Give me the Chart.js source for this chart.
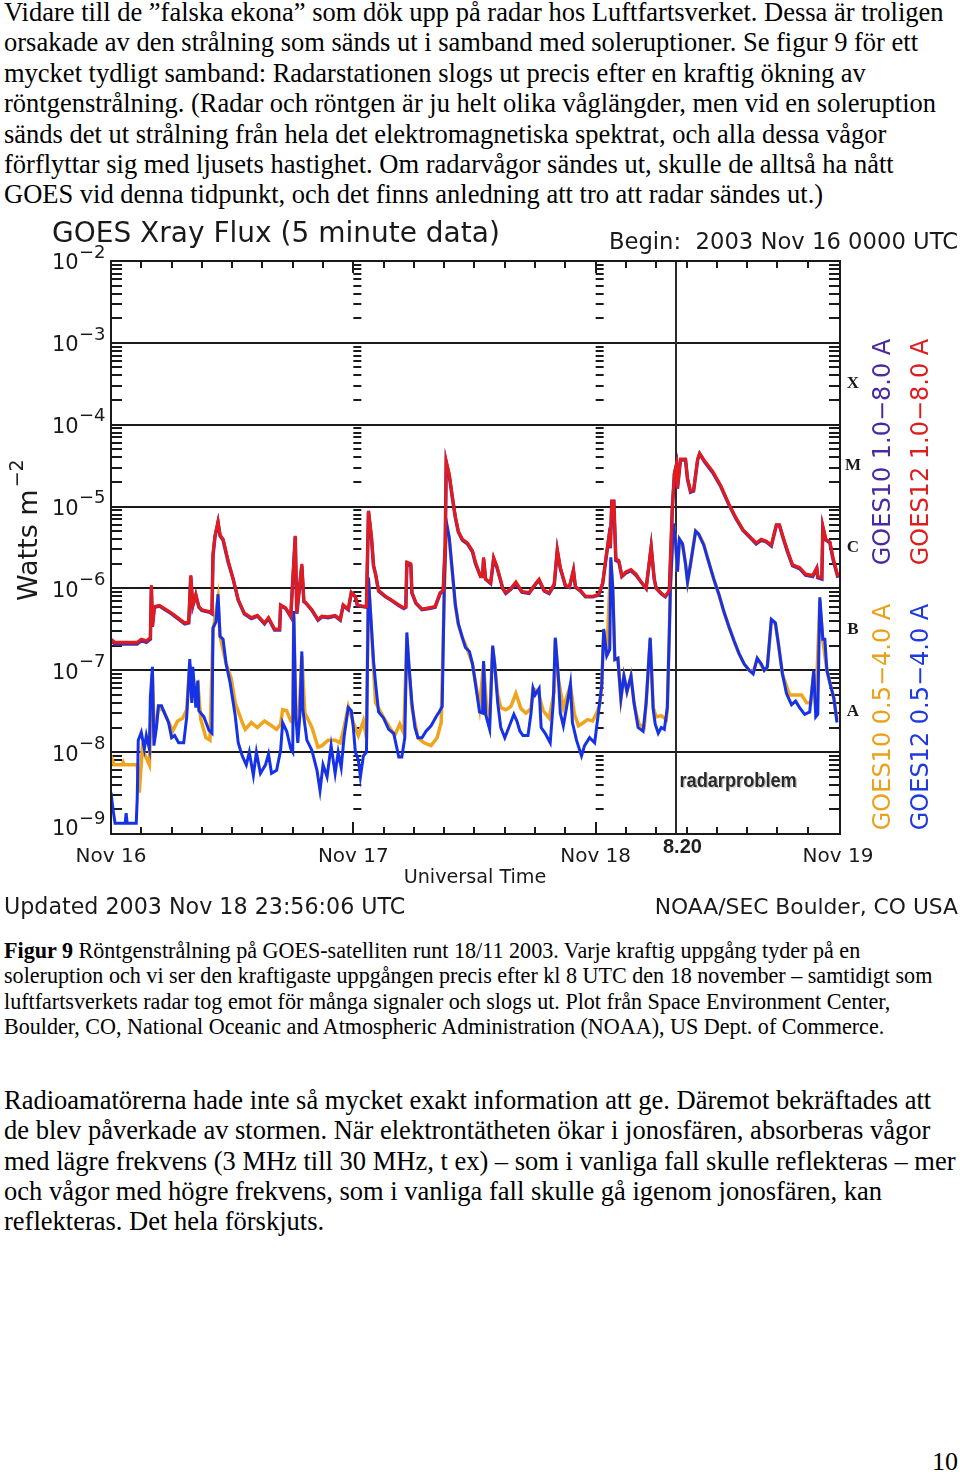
<!DOCTYPE html>
<html>
<head>
<meta charset="utf-8">
<script src="https://cdn.jsdelivr.net/npm/chart.js@4.4.1/dist/chart.umd.min.js"></script>
<style>
  body { margin: 0; background: #fff; }
  #page { position: relative; width: 960px; height: 1474px; overflow: hidden; }
  .txt { position: absolute; left: 4px; font-family: "Liberation Serif", "Times New Roman", serif; color: #000; white-space: nowrap; }
  #para1 { top: -3px; font-size: 26.5px; line-height: 30.4px; }
  #caption { top: 938px; font-size: 22.1px; line-height: 25.3px; }
  #para2 { top: 1085px; font-size: 26.5px; line-height: 30.3px; }
  #pagenum { position: absolute; left: 932px; top: 1447px; font-family: "Liberation Serif", serif; font-size: 26px; }
  #chartBox { position: absolute; left: 0; top: 215px; width: 960px; height: 712px; }
</style>
</head>
<body>
<div id="page">
<div id="para1" class="txt">Vidare till de ”falska ekona” som dök upp på radar hos Luftfartsverket. Dessa är troligen<br>orsakade av den strålning som sänds ut i samband med soleruptioner. Se figur 9 för ett<br>mycket tydligt samband: Radarstationen slogs ut precis efter en kraftig ökning av<br>röntgenstrålning. (Radar och röntgen är ju helt olika våglängder, men vid en soleruption<br>sänds det ut strålning från hela det elektromagnetiska spektrat, och alla dessa vågor<br>förflyttar sig med ljusets hastighet. Om radarvågor sändes ut, skulle de alltså ha nått<br>GOES vid denna tidpunkt, och det finns anledning att tro att radar sändes ut.)</div>

<div id="chartBox"><canvas id="myChart" width="960" height="712"></canvas></div>

<div id="caption" class="txt"><b>Figur 9</b> Röntgenstrålning på GOES-satelliten runt 18/11 2003. Varje kraftig uppgång tyder på en<br>soleruption och vi ser den kraftigaste uppgången precis efter kl 8 UTC den 18 november – samtidigt som<br>luftfartsverkets radar tog emot för många signaler och slogs ut. Plot från Space Environment Center,<br>Boulder, CO, National Oceanic and Atmospheric Administration (NOAA), US Dept. of Commerce.</div>

<div id="para2" class="txt">Radioamatörerna hade inte så mycket exakt information att ge. Däremot bekräftades att<br>de blev påverkade av stormen. När elektrontätheten ökar i jonosfären, absorberas vågor<br>med lägre frekvens (3 MHz till 30 MHz, t ex) – som i vanliga fall skulle reflekteras – mer<br>och vågor med högre frekvens, som i vanliga fall skulle gå igenom jonosfären, kan<br>reflekteras. Det hela förskjuts.</div>

<div id="pagenum">10</div>
</div>

<script>
// hours since 2003 Nov 16 00:00 UTC
const dayLabels  = ['Nov 16', 'Nov 17', 'Nov 18', 'Nov 19'];
const dayHours   = [0, 24, 48, 72];
const decadeExps = [-2, -3, -4, -5, -6, -7, -8, -9];
const flareClasses = [['X', 1e-4], ['M', 1e-5], ['C', 1e-6], ['B', 1e-7], ['A', 1e-8]]; // letter sits in decade above value
const radarHour  = 56.0;

// 1.0-8.0 A channels (GOES12 red on top, GOES10 purple below it)
const longHours = [0, 0.4, 1.5, 2.6, 3.0, 3.5, 3.9, 4.0, 4.1, 4.3, 4.8, 6.0, 7.3, 7.7, 7.9, 8.1, 8.4, 8.7, 9.0, 9.8,
  10.0, 10.1, 10.3, 10.6, 10.8, 11.1, 11.6, 12.1, 12.6, 13.2, 13.9, 14.5, 15.2, 15.6, 16.2, 16.7, 16.8, 17.3, 17.8, 18.1,
  18.25, 18.4, 18.9, 19.1, 19.3, 19.9, 20.5, 20.9, 21.5, 22.2, 22.7, 23.0, 23.5, 23.8, 24.2, 24.4, 24.9, 25.3, 25.5, 25.8,
  26.0, 26.2, 26.5, 27.2, 27.8, 28.5, 29.0, 29.2, 29.3, 29.7, 29.8, 30.2, 30.8, 31.5, 32.1, 32.6, 32.9, 33.1, 33.2, 33.5,
  33.8, 34.1, 34.4, 34.8, 35.3, 35.8, 36.1, 36.6, 36.8, 36.9, 37.1, 37.6, 37.9, 38.2, 38.8, 39.1, 39.6, 40.1, 40.7, 41.4,
  42.1, 42.4, 42.9, 43.4, 43.9, 44.2, 44.5, 45.0, 45.4, 45.8, 46.0, 46.5, 47.0, 47.7, 48.3, 48.7, 49.0, 49.3, 49.45, 49.6,
  49.8, 50.0, 50.3, 50.6, 51.0, 51.5, 52.0, 52.5, 53.0, 53.5, 53.8, 54.0, 54.5, 54.9, 55.3, 55.6, 55.8, 56.0, 56.1, 56.4,
  56.9, 57.1, 57.4, 57.7, 58.1, 58.3, 58.8, 59.6, 60.4, 61.2, 61.9, 62.6, 63.2, 63.9, 64.4, 64.9, 65.4, 65.9, 66.2, 66.5,
  67.0, 67.5, 68.2, 68.8, 69.5, 69.9, 70.0, 70.4, 70.5, 70.8, 71.2, 71.5, 72.0];
const goes12Long = [2.4e-7, 2.2e-7, 2.2e-7, 2.2e-7, 2.4e-7, 2.3e-7, 2.5e-7, 1.1e-6, 3.5e-7, 6e-7, 6.2e-7, 5e-7, 3.8e-7, 3.9e-7, 1.45e-6, 6.2e-7, 8.5e-7, 6e-7, 5.5e-7, 5.2e-7,
  5e-7, 2.6e-6, 4.4e-6, 6.6e-6, 4.5e-6, 4e-6, 2.2e-6, 1.3e-6, 7.3e-7, 5e-7, 4.4e-7, 4.7e-7, 3.8e-7, 4.4e-7, 3.2e-7, 3.2e-7, 6.3e-7, 5.8e-7, 4.6e-7, 2.1e-6,
  4.4e-6, 5e-7, 2e-6, 7e-7, 6.7e-7, 5.5e-7, 4.2e-7, 4.6e-7, 4.5e-7, 4.7e-7, 4.2e-7, 6.3e-7, 5.6e-7, 9e-7, 8e-7, 6.3e-7, 6.1e-7, 6e-7, 8.9e-6, 4.2e-6,
  1.9e-6, 1.5e-6, 9.5e-7, 8e-7, 7.2e-7, 6.3e-7, 5.8e-7, 6e-7, 2.1e-6, 2e-6, 9e-7, 6.7e-7, 5.6e-7, 5.8e-7, 6e-7, 8.9e-7, 9.5e-7, 3.4e-6, 3.6e-5, 2.5e-5,
  1.35e-5, 7.6e-6, 5e-6, 4e-6, 3.6e-6, 2.9e-6, 2.1e-6, 1.4e-6, 1.4e-6, 2.4e-6, 1.3e-6, 1.17e-6, 2.4e-6, 1.9e-6, 1e-6, 8.9e-7, 1e-6, 1.2e-6, 9.2e-7, 8.9e-7,
  1.17e-6, 1.3e-6, 9.5e-7, 8.9e-7, 1.15e-6, 3e-6, 1.8e-6, 1.1e-6, 1.05e-6, 1.7e-6, 1.05e-6, 9.5e-7, 8e-7, 8e-7, 8.5e-7, 1.17e-6, 2.3e-6, 4.2e-6, 3.2e-6, 1.17e-5,
  1.17e-5, 2.3e-6, 2.2e-6, 1.4e-6, 1.6e-6, 1.7e-6, 1.5e-6, 1.2e-6, 1e-6, 3.3e-6, 1.3e-6, 1e-6, 8.8e-7, 8e-7, 9.5e-7, 1e-5, 2.6e-5, 3.3e-5, 1.7e-5, 3.8e-5,
  3.8e-5, 2.2e-5, 1.55e-5, 1.6e-5, 3.8e-5, 4.5e-5, 3.6e-5, 2.7e-5, 1.8e-5, 1.07e-5, 7.3e-6, 5.2e-6, 4.4e-6, 3.6e-6, 4e-6, 3.8e-6, 3.4e-6, 6e-6, 6e-6, 4.5e-6,
  2.9e-6, 1.95e-6, 1.8e-6, 1.5e-6, 1.45e-6, 1.8e-6, 1.4e-6, 1.35e-6, 5.8e-6, 4e-6, 3.7e-6, 2.4e-6, 1.4e-6];
const goes10Long = [2.3e-7, 2.1e-7, 2.1e-7, 2.1e-7, 2.3e-7, 2.2e-7, 2.4e-7, 1.05e-6, 3.4e-7, 5.9e-7, 6.1e-7, 4.9e-7, 3.7e-7, 3.8e-7, 1.4e-6, 6.1e-7, 8.3e-7, 5.9e-7, 5.4e-7, 5.1e-7,
  4.9e-7, 2.5e-6, 4.3e-6, 6.4e-6, 4.4e-6, 3.9e-6, 2.1e-6, 1.3e-6, 7.2e-7, 4.9e-7, 4.3e-7, 4.6e-7, 3.7e-7, 4.3e-7, 3.1e-7, 3.1e-7, 6.2e-7, 5.7e-7, 4.5e-7, 2e-6,
  4.3e-6, 4.9e-7, 1.9e-6, 6.9e-7, 6.6e-7, 5.4e-7, 4.1e-7, 4.5e-7, 4.4e-7, 4.6e-7, 4.1e-7, 6.2e-7, 5.5e-7, 8.8e-7, 7.9e-7, 6.2e-7, 6e-7, 5.9e-7, 8.7e-6, 4.1e-6,
  1.9e-6, 1.5e-6, 9.3e-7, 7.9e-7, 7.1e-7, 6.2e-7, 5.7e-7, 5.9e-7, 2e-6, 1.9e-6, 8.8e-7, 6.6e-7, 5.5e-7, 5.7e-7, 5.9e-7, 8.7e-7, 9.3e-7, 3.3e-6, 3.5e-5, 2.4e-5,
  1.3e-5, 7.4e-6, 4.9e-6, 3.9e-6, 3.5e-6, 2.8e-6, 2e-6, 1.4e-6, 1.4e-6, 2.3e-6, 1.3e-6, 1.15e-6, 2.3e-6, 1.85e-6, 1e-6, 8.7e-7, 9.8e-7, 1.15e-6, 9e-7, 8.7e-7,
  1.15e-6, 1.25e-6, 9.3e-7, 8.7e-7, 1.1e-6, 2.9e-6, 1.75e-6, 1.08e-6, 1.03e-6, 1.65e-6, 1.03e-6, 9.3e-7, 7.9e-7, 7.9e-7, 8.3e-7, 1.15e-6, 2.2e-6, 4.1e-6, 3.1e-6, 1.15e-5,
  1.15e-5, 2.2e-6, 2.1e-6, 1.4e-6, 1.55e-6, 1.65e-6, 1.45e-6, 1.2e-6, 1e-6, 3.2e-6, 1.3e-6, 1e-6, 8.6e-7, 7.9e-7, 9.3e-7, 9.8e-6, 2.5e-5, 3.2e-5, 1.65e-5, 3.7e-5,
  3.7e-5, 2.15e-5, 1.5e-5, 1.55e-5, 3.7e-5, 4.4e-5, 3.5e-5, 2.6e-5, 1.75e-5, 1.05e-5, 7.1e-6, 5.1e-6, 4.3e-6, 3.5e-6, 3.9e-6, 3.7e-6, 3.3e-6, 5.9e-6, 5.9e-6, 4.4e-6,
  2.8e-6, 1.9e-6, 1.75e-6, 1.45e-6, 1.4e-6, 1.75e-6, 1.35e-6, 1.3e-6, 5.6e-6, 3.9e-6, 3.6e-6, 2.3e-6, 1.35e-6];

// 0.5-4.0 A, GOES12 (blue)
const shortHours = [0, 0.2, 0.4, 1.4, 1.5, 1.6, 2.5, 2.6, 2.7, 3.0, 3.3, 3.5, 3.8, 3.9, 4.1, 4.25, 4.5, 4.7, 5.0, 5.3,
  5.7, 6.0, 6.3, 6.7, 7.2, 7.5, 7.8, 8.0, 8.1, 8.4, 8.6, 8.7, 9.2, 9.7, 10.0, 10.1, 10.4, 10.6, 10.8, 11.1,
  11.4, 11.8, 12.3, 12.6, 13.0, 13.4, 13.7, 14.1, 14.4, 14.8, 15.3, 15.6, 15.9, 16.4, 16.8, 17.0, 17.4, 17.8, 18.0, 18.1,
  18.3, 18.5, 18.7, 18.9, 19.0, 19.4, 19.9, 20.4, 20.7, 21.0, 21.4, 21.8, 22.2, 22.5, 22.8, 23.1, 23.5, 23.8, 24.0, 24.2,
  24.5, 24.7, 25.0, 25.3, 25.5, 25.8, 26.0, 26.2, 26.5, 27.0, 27.5, 28.0, 28.5, 28.8, 29.1, 29.3, 29.5, 29.8, 30.1, 30.4,
  30.8, 31.2, 31.7, 32.2, 32.5, 32.8, 33.0, 33.2, 33.5, 33.8, 34.1, 34.4, 34.8, 35.1, 35.5, 35.8, 36.2, 36.5, 36.8, 36.9,
  37.1, 37.5, 37.8, 38.0, 38.3, 38.6, 39.0, 39.4, 39.9, 40.2, 40.5, 40.8, 41.3, 41.6, 41.8, 42.0, 42.4, 42.6, 43.0, 43.5,
  43.8, 44.0, 44.3, 44.5, 44.8, 45.2, 45.5, 45.7, 46.1, 46.6, 46.9, 47.4, 47.9, 48.3, 48.6, 48.8, 49.1, 49.4, 49.5, 49.7,
  49.9, 50.2, 50.5, 50.8, 51.1, 51.5, 51.8, 52.2, 52.7, 53.0, 53.4, 53.7, 53.9, 54.2, 54.5, 54.8, 55.1, 55.3, 55.4, 55.7,
  55.9, 56.1, 56.3, 56.6, 56.9, 57.1, 57.4, 57.9, 58.2, 58.7, 59.2, 59.7, 60.2, 60.7, 61.2, 61.7, 62.2, 62.7, 63.2, 63.6,
  64.0, 64.4, 64.7, 65.0, 65.4, 65.8, 66.1, 66.5, 66.9, 67.4, 67.8, 68.2, 68.7, 69.2, 69.6, 69.8, 70.0, 70.2, 70.5, 70.7,
  70.9, 71.2, 71.6, 71.9];
const goes12Short = [3.2e-9, 2e-9, 1.35e-9, 1.35e-9, 1.8e-9, 1.35e-9, 1.35e-9, 2.8e-9, 1.4e-8, 1.75e-8, 1.1e-8, 1.6e-8, 1.1e-8, 4.7e-8, 1.1e-7, 1.2e-8, 2e-8, 3.7e-8, 3.7e-8, 3e-8,
  2.3e-8, 1.5e-8, 1.6e-8, 1.3e-8, 1.3e-8, 2.7e-8, 1.37e-7, 4e-8, 1.1e-7, 3.5e-8, 7.5e-8, 3.2e-8, 2.7e-8, 1.85e-8, 1.7e-8, 3.3e-7, 3.9e-7, 8.5e-7, 2.6e-7, 2.4e-7,
  1.2e-7, 7e-8, 2.8e-8, 1.3e-8, 9e-9, 7e-9, 1e-8, 5.2e-9, 1e-8, 5.5e-9, 7e-9, 9.5e-9, 5.5e-9, 6e-9, 1.05e-8, 2.3e-8, 1.8e-8, 1.1e-8, 1e-8, 5.3e-7,
  2.8e-8, 1.3e-8, 2.8e-8, 1.7e-7, 3.3e-8, 1.4e-8, 1.05e-8, 6e-9, 3.4e-9, 7e-9, 5e-9, 1.2e-8, 5.5e-9, 1e-8, 6.5e-9, 1.6e-8, 3.5e-8, 3.2e-8, 2e-8, 1e-8,
  8e-9, 5e-9, 9e-9, 1e-8, 1.36e-6, 3.3e-7, 1.3e-7, 7e-8, 3.1e-8, 2.6e-8, 1.9e-8, 1.7e-8, 8.7e-9, 8.7e-9, 1.5e-8, 2.9e-7, 1.2e-7, 4e-8, 2e-8, 1.5e-8,
  1.5e-8, 1.8e-8, 2.1e-8, 2.7e-8, 3.1e-8, 3.6e-8, 9.3e-7, 6.7e-6, 4.2e-6, 1.65e-6, 6.4e-7, 3.7e-7, 2.5e-7, 1.9e-7, 1.7e-7, 1.2e-7, 5.6e-8, 3.1e-8, 3e-8, 1.3e-7,
  2.9e-8, 1.9e-8, 2e-7, 1.2e-7, 4e-8, 2e-8, 1.5e-8, 2e-8, 2.9e-8, 2.4e-8, 1.8e-8, 1.6e-8, 1.6e-8, 3e-8, 6e-8, 5e-8, 6e-8, 2e-8, 1.7e-8, 1.3e-8,
  4e-8, 2.5e-7, 8.5e-8, 3e-8, 2.1e-8, 4e-8, 6.8e-8, 2.3e-8, 1.4e-8, 9e-9, 1.2e-8, 1.5e-8, 1.3e-8, 3.2e-8, 6.5e-8, 3.2e-7, 1.5e-7, 1.8e-7, 2.4e-6, 1e-6,
  1.35e-7, 1.4e-7, 4.5e-8, 8.5e-8, 5.5e-8, 8.5e-8, 4e-8, 2e-8, 1.8e-8, 4e-8, 2.5e-7, 3.3e-8, 2.2e-8, 1.7e-8, 2e-8, 1.9e-8, 3.5e-8, 3e-7, 1e-6, 6.2e-6,
  4e-6, 1.6e-6, 4e-6, 3.5e-6, 2e-6, 1.2e-6, 2e-6, 5e-6, 4.6e-6, 3.4e-6, 2.1e-6, 1.3e-6, 8.5e-7, 5.2e-7, 3.4e-7, 2.3e-7, 1.6e-7, 1.2e-7, 1e-7, 9e-8,
  1.4e-7, 1.2e-7, 1e-7, 1.1e-7, 4.2e-7, 3.8e-7, 2.1e-7, 9e-8, 5.2e-8, 3.8e-8, 4.2e-8, 3.5e-8, 2.9e-8, 3.1e-8, 1e-7, 2.7e-8, 2.9e-8, 7.8e-7, 2.4e-7, 2.4e-7,
  1e-7, 7e-8, 4.5e-8, 2.3e-8];

// 0.5-4.0 A, GOES10 (orange, mostly hidden under blue)
const orangeHours = [0, 0.3, 1.1, 1.2, 1.3, 2.6, 2.8, 3.1, 3.4, 3.8, 4.0, 4.1, 4.3, 4.7, 5.2, 5.8, 6.1, 6.6, 7.1, 7.5,
  7.8, 8.1, 8.6, 8.9, 9.4, 9.8, 10.1, 10.6, 10.8, 11.4, 11.9, 12.3, 13.0, 13.3, 13.9, 14.5, 15.2, 15.9, 16.4, 16.8,
  17.0, 17.4, 17.8, 18.0, 18.1, 18.3, 18.6, 18.9, 19.2, 19.9, 20.5, 20.9, 21.5, 22.2, 22.7, 23.0, 23.5, 24.0, 24.5, 25.0,
  25.3, 25.5, 25.8, 26.2, 27.2, 28.1, 28.6, 29.0, 29.3, 29.5, 29.8, 30.4, 31.0, 31.7, 32.3, 32.7, 33.0, 33.2, 33.5, 33.8,
  34.1, 34.4, 34.8, 35.3, 35.8, 36.2, 36.5, 36.9, 37.2, 37.5, 37.8, 38.0, 38.3, 38.6, 39.1, 39.6, 40.1, 40.6, 41.1, 41.6,
  41.8, 42.3, 42.8, 43.4, 43.9, 44.0, 44.3, 44.8, 45.5, 45.9, 46.3, 46.8, 47.2, 47.7, 48.1, 48.4, 48.6, 48.8, 49.1, 49.5,
  49.7, 49.9, 50.2, 50.5, 50.8, 51.1, 51.5, 51.8, 52.0, 52.3, 52.8, 53.0, 53.4, 53.7, 54.0, 54.5, 55.0, 55.1, 55.3, 55.4,
  55.7, 55.9, 56.1, 56.3, 56.6, 56.9, 57.1, 57.4, 57.9, 58.2, 58.7, 59.2, 59.7, 60.2, 60.7, 61.2, 61.7, 62.2, 62.7, 63.2,
  63.6, 64.0, 64.7, 65.0, 65.4, 65.8, 66.1, 66.5, 67.2, 67.9, 68.4, 68.9, 69.3, 69.6, 69.8, 70.2, 70.5, 70.9, 71.2, 71.6,
  71.9];
const goes10Short = [9e-9, 7e-9, 7e-9, 7.5e-9, 7e-9, 7e-9, 3.2e-9, 1.1e-8, 9e-9, 7e-9, 4e-8, 9e-8, 1.5e-8, 3.5e-8, 3.2e-8, 2.2e-8, 1.8e-8, 2.4e-8, 2.6e-8, 3.3e-8,
  1.2e-7, 6e-8, 7e-8, 2.5e-8, 1.5e-8, 1.4e-8, 3e-7, 7.5e-7, 2.6e-7, 1.2e-7, 8e-8, 4e-8, 2.3e-8, 1.9e-8, 2.3e-8, 2e-8, 2.4e-8, 2.1e-8, 1.9e-8, 2.2e-8,
  3.3e-8, 3.2e-8, 2.4e-8, 2.3e-8, 4.5e-7, 3.5e-8, 2.5e-8, 1.5e-7, 3e-8, 2e-8, 1.15e-8, 1.2e-8, 1.4e-8, 1.4e-8, 1.3e-8, 1.8e-8, 3.6e-8, 2.3e-8, 1.6e-8, 2.4e-8,
  1.5e-8, 1.2e-6, 3e-7, 4e-8, 2.4e-8, 1.6e-8, 2.2e-8, 1.7e-8, 2.5e-7, 1.1e-7, 3.5e-8, 1.5e-8, 1.3e-8, 1.2e-8, 1.5e-8, 2.3e-8, 8e-7, 6e-6, 4e-6, 1.6e-6,
  6.2e-7, 3.6e-7, 2.5e-7, 1.8e-7, 1.2e-7, 6e-8, 3.5e-8, 1.2e-7, 3.5e-8, 2.5e-8, 1.9e-7, 1.2e-7, 5e-8, 3.5e-8, 3.3e-8, 3.6e-8, 5.2e-8, 3.4e-8, 3e-8, 3.4e-8,
  6e-8, 5.5e-8, 3.2e-8, 2.6e-8, 5.5e-8, 2.4e-7, 8e-8, 3.5e-8, 6.5e-8, 2.9e-8, 2.1e-8, 2.3e-8, 2.5e-8, 2.4e-8, 3e-8, 3.8e-8, 6.5e-8, 3e-7, 1.5e-7, 2.2e-6,
  9e-7, 1.35e-7, 1.4e-7, 4.5e-8, 8.5e-8, 5.5e-8, 8.5e-8, 4e-8, 3e-8, 2.2e-8, 2e-8, 4e-8, 2.4e-7, 3.5e-8, 2.7e-8, 2.8e-8, 2.5e-8, 3.5e-8, 3e-7, 1e-6,
  6e-6, 4e-6, 1.6e-6, 4e-6, 3.5e-6, 2e-6, 1.2e-6, 2e-6, 5e-6, 4.6e-6, 3.5e-6, 2.1e-6, 1.3e-6, 8.5e-7, 5.2e-7, 3.4e-7, 2.3e-7, 1.6e-7, 1.2e-7, 1e-7,
  9.5e-8, 1.4e-7, 1e-7, 1.1e-7, 4e-7, 3.7e-7, 2.1e-7, 9e-8, 5e-8, 5e-8, 5e-8, 4e-8, 4e-8, 9e-8, 3.5e-8, 7e-7, 2.3e-7, 1e-7, 7e-8, 4.5e-8,
  2.5e-8];

function toPoints(hours, values) {
  return hours.map(function (h, i) { return { x: h, y: values[i] }; });
}

const ink = '#1a1a1a';
const idlFont = '"DejaVu Sans", sans-serif';

// everything around the plot that chart.js doesn't draw by itself
const goesDecor = {
  id: 'goesDecor',
  beforeDatasetsDraw(chart) {
    const ctx = chart.ctx, a = chart.chartArea;
    const xs = chart.scales.x, ys = chart.scales.y;
    ctx.save();
    ctx.strokeStyle = ink;
    ctx.lineWidth = 2;
    // minor log ticks on left, right and the two day boundaries
    const cols = [
      [a.left, 11], [a.right, -11],
      [xs.getPixelForValue(24), 8], [xs.getPixelForValue(48), 8]
    ];
    for (let e = -9; e < -2; e++) {
      for (let k = 1; k <= 9; k++) {
        const py = Math.round(ys.getPixelForValue(k * Math.pow(10, e)));
        cols.forEach(function (c) {
          ctx.beginPath();
          ctx.moveTo(c[0], py);
          ctx.lineTo(c[0] + c[1], py);
          ctx.stroke();
        });
      }
    }
    // time ticks every 3 hours, top and bottom, pointing in
    for (let h = 3; h < 72; h += 3) {
      const px = Math.round(xs.getPixelForValue(h));
      const len = (h % 24 === 0) ? 12 : 7;
      ctx.beginPath();
      ctx.moveTo(px, a.bottom); ctx.lineTo(px, a.bottom - len);
      ctx.moveTo(px, a.top); ctx.lineTo(px, a.top + len);
      ctx.stroke();
    }
    // radar outage marker
    const rx = Math.round(xs.getPixelForValue(radarHour));
    ctx.strokeStyle = '#2a2a2a';
    ctx.beginPath();
    ctx.moveTo(rx, a.top); ctx.lineTo(rx, a.bottom);
    ctx.stroke();
    ctx.restore();
  },
  afterDraw(chart) {
    const ctx = chart.ctx, a = chart.chartArea;
    const xs = chart.scales.x, ys = chart.scales.y;
    ctx.save();
    ctx.strokeStyle = ink;
    ctx.lineWidth = 2;
    ctx.strokeRect(a.left, a.top, a.right - a.left, a.bottom - a.top);

    ctx.fillStyle = ink;
    ctx.textBaseline = 'middle';

    // title line
    ctx.textAlign = 'left';
    ctx.font = '28px ' + idlFont;
    ctx.fillText('GOES Xray Flux (5 minute data)', 52, 20);
    ctx.textAlign = 'right';
    ctx.font = '22.7px ' + idlFont;
    ctx.fillText('Begin:  2003 Nov 16 0000 UTC', 958, 28);

    // decade labels 10^n
    decadeExps.forEach(function (e) {
      let py = ys.getPixelForValue(Math.pow(10, e));
      if (e === -9) py -= 7;
      ctx.textAlign = 'left';
      ctx.font = '21px ' + idlFont;
      ctx.fillText('10', 52, py + 3);
      ctx.font = '18px ' + idlFont;
      ctx.fillText('\u2212' + (-e), 79, py - 8);
    });

    // y title
    ctx.save();
    ctx.translate(30, 320);
    ctx.rotate(-Math.PI / 2);
    ctx.textAlign = 'left';
    ctx.font = '27px ' + idlFont;
    const wt = ctx.measureText('Watts m').width;
    ctx.fillText('Watts m', -66, 0);
    ctx.font = '19px ' + idlFont;
    ctx.fillText('\u22122', -66 + wt + 2, -12);
    ctx.restore();

    // flare class letters
    ctx.textAlign = 'center';
    ctx.font = 'bold 17px "Liberation Serif", serif';
    flareClasses.forEach(function (fc) {
      const py = (ys.getPixelForValue(fc[1]) + ys.getPixelForValue(fc[1] * 10)) / 2;
      ctx.fillText(fc[0], 853, py);
    });

    // rotated legend
    const legend = [
      ['GOES10 1.0\u22128.0 A', '#4b2a9e', 884, 237],
      ['GOES12 1.0\u22128.0 A', '#dd1e1e', 922, 237],
      ['GOES10 0.5\u22124.0 A', '#eaa21e', 884, 502],
      ['GOES12 0.5\u22124.0 A', '#1f3ae0', 922, 502]
    ];
    ctx.font = '24px ' + idlFont;
    legend.forEach(function (l) {
      ctx.save();
      ctx.fillStyle = l[1];
      ctx.translate(l[2], l[3]);
      ctx.rotate(-Math.PI / 2);
      ctx.textAlign = 'center';
      ctx.fillText(l[0], 0, 0);
      ctx.restore();
    });

    // axis title and footer
    ctx.fillStyle = ink;
    ctx.textAlign = 'center';
    ctx.font = '19.2px ' + idlFont;
    ctx.fillText('Universal Time', 475, 663);
    ctx.font = '22.2px ' + idlFont;
    ctx.textAlign = 'left';
    ctx.fillText('Updated 2003 Nov 18 23:56:06 UTC', 4, 693);
    ctx.font = '21.8px ' + idlFont;
    ctx.textAlign = 'right';
    ctx.fillText('NOAA/SEC Boulder, CO USA', 958, 693);

    // radar annotation
    const rx = xs.getPixelForValue(radarHour);
    ctx.textAlign = 'center';
    ctx.font = 'bold 20px "Liberation Sans Narrow", "Liberation Sans", sans-serif';
    ctx.fillStyle = '#222';
    ctx.fillText('8.20', rx + 6, 632);
    ctx.save();
    ctx.translate(rx + 3, 566);
    ctx.scale(0.91, 1);
    ctx.textAlign = 'left';
    ctx.font = 'bold 20px "Liberation Sans Narrow", "Liberation Sans", sans-serif';
    ctx.fillStyle = '#c8c8c8';
    ctx.fillText('radarproblem', 1.5, 1.5);
    ctx.fillStyle = '#2a2a2a';
    ctx.fillText('radarproblem', 0, 0);
    ctx.restore();
    ctx.restore();
  }
};

const ctx = document.getElementById('myChart').getContext('2d');
const myChart = new Chart(ctx, {
  type: 'line',
  data: {
    datasets: [
      { label: 'GOES12 1.0-8.0 A', data: toPoints(longHours, goes12Long), borderColor: '#e31b1b', order: 1 },
      { label: 'GOES10 1.0-8.0 A', data: toPoints(longHours, goes10Long), borderColor: '#5b2aa0', order: 2, borderWidth: 3.5 },
      { label: 'GOES12 0.5-4.0 A', data: toPoints(shortHours, goes12Short), borderColor: '#1532e6', order: 3 },
      { label: 'GOES10 0.5-4.0 A', data: toPoints(orangeHours, goes10Short), borderColor: '#f0a41e', order: 4, borderWidth: 3.5 }
    ]
  },
  options: {
    responsive: false,
    animation: false,
    parsing: false,
    datasets: { line: { borderWidth: 3, pointRadius: 0, tension: 0, fill: false } },
    layout: { padding: { top: 46, right: 120, left: 0, bottom: 0 } },
    plugins: { legend: { display: false }, tooltip: { enabled: false } },
    scales: {
      x: {
        type: 'linear',
        min: 0,
        max: 72.2,
        afterFit: function (s) { s.height = 93; },
        afterBuildTicks: function (s) { s.ticks = dayHours.map(function (h) { return { value: h }; }); },
        ticks: {
          autoSkip: false,
          maxRotation: 0,
          padding: 11,
          color: ink,
          font: { family: 'DejaVu Sans', size: 20 },
          callback: function (v, i) { return dayLabels[i]; }
        },
        grid: { display: false, drawTicks: false },
        border: { display: false }
      },
      y: {
        type: 'logarithmic',
        min: 1e-9,
        max: 1e-2,
        afterFit: function (s) { s.width = 111; },
        afterBuildTicks: function (s) { s.ticks = decadeExps.map(function (e) { return { value: Math.pow(10, e), major: true }; }); },
        ticks: { display: false },
        grid: { color: ink, lineWidth: 2, drawTicks: false },
        border: { display: false }
      }
    }
  },
  plugins: [goesDecor]
});
</script>
</body>
</html>
